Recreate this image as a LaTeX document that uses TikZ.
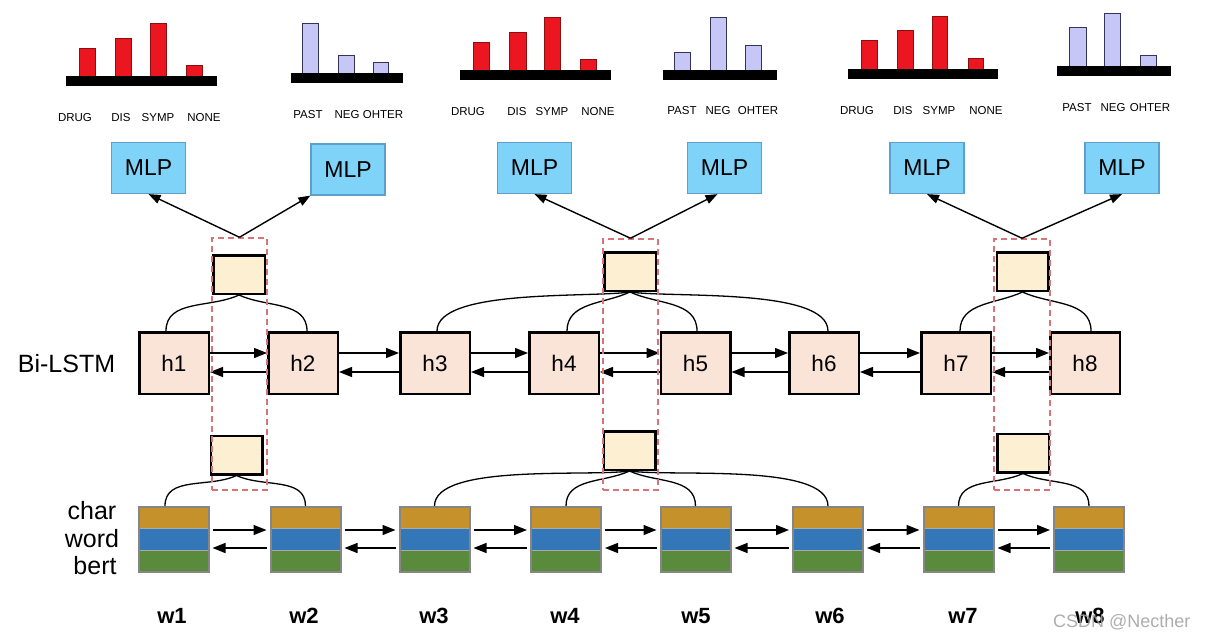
\documentclass[tikz,border=0pt]{standalone}
\usepackage{fontspec}
\setmainfont{Liberation Sans}
\usetikzlibrary{arrows.meta,calc}
\definecolor{mlpfill}{HTML}{80D3F8}
\definecolor{mlpline}{HTML}{5E9FCB}
\definecolor{attfill}{HTML}{FDEFD2}
\definecolor{hfill}{HTML}{FAE3D7}
\definecolor{egold}{HTML}{C4912A}
\definecolor{eblue}{HTML}{3377B8}
\definecolor{egreen}{HTML}{5A8A3C}
\definecolor{egrey}{HTML}{868686}
\definecolor{dashred}{HTML}{D9737A}
\definecolor{barred}{HTML}{EC1620}
\definecolor{barredline}{HTML}{8A1010}
\definecolor{barblue}{HTML}{C6C6F7}
\definecolor{barblueline}{HTML}{34345A}
\begin{document}
\begin{tikzpicture}[x=1pt,y=1pt,
  mlp/.style={draw=mlpline, fill=mlpfill, line width=1.2pt, minimum width=74pt, minimum height=51pt, inner sep=0pt, font=\fontsize{23}{26}\selectfont},
  att/.style={draw=black, fill=attfill, line width=2.5pt, minimum width=51.5pt, minimum height=38.5pt, inner sep=0pt},
  hbox/.style={draw=black, fill=hfill, line width=2.5pt, minimum width=69.5pt, minimum height=61.5pt, inner sep=0pt, font=\fontsize{22.5}{26}\selectfont},
  ebox/.style={draw=egrey, line width=2pt, minimum width=70pt, minimum height=65pt, inner sep=0pt,
    path picture={
      \fill[egreen] (path picture bounding box.south west) rectangle (path picture bounding box.north east);
      \fill[eblue] ($(path picture bounding box.west)+(0,10.8)$) rectangle ($(path picture bounding box.east)+(0,-10.8)$);
      \fill[egold] ($(path picture bounding box.west)+(0,10.8)$) rectangle (path picture bounding box.north east);
      \draw[egrey!70, line width=1pt] ($(path picture bounding box.west)+(0,10.8)$) -- ($(path picture bounding box.east)+(0,10.8)$);
      \draw[egrey!70, line width=1pt] ($(path picture bounding box.west)+(0,-10.8)$) -- ($(path picture bounding box.east)+(0,-10.8)$);
    }},
  dbox/.style={draw=dashred, dash pattern=on 6pt off 4pt, line width=1.5pt, inner sep=0pt},
  harr/.style={line width=1.4pt, -{Triangle[length=13pt,width=10pt]}},
  earr/.style={line width=1.4pt, -{Triangle[length=13pt,width=10pt]}, shorten <=3pt, shorten >=3pt},
  marr/.style={line width=1.4pt, -{Triangle[length=12pt,width=9pt]}},
  arcline/.style={line width=1.3pt},
  nearl/.style={out=90, in=205},
  nearr/.style={out=90, in=-25},
  farl/.style={out=90, in=188, looseness=0.55},
  farr/.style={out=90, in=-8, looseness=0.55},
  lab/.style={anchor=base, font=\fontsize{11.5}{13}\selectfont, inner sep=0pt},
  bigtxt/.style={font=\fontsize{25}{27}\selectfont, inner sep=0pt},
  wlab/.style={anchor=base, font=\bfseries\fontsize{22}{26}\selectfont, inner sep=0pt},
  redbar/.style={fill=barred, draw=barredline, line width=0.6pt},
  bluebar/.style={fill=barblue, draw=barblueline, line width=0.9pt}
]
\useasboundingbox (0,0) rectangle (1208,-638);

% ---------- bar charts ----------
% chart 1
\foreach \a/\b/\t in {79/95/48,115/131/38,150/166/23,186/202/65}
  \draw[redbar] (\a,-\t) rectangle (\b,-76);
\fill[black] (66,-76) rectangle (217,-86);
\foreach \x/\s [count=\i] in {75/DRUG,121/DIS,158/SYMP,204/NONE}
  \node[lab] (ca\i) at (\x,-121) {\s};
% chart 2
\foreach \a/\b/\t in {302/318/23,338/354/55,373/388/62}
  \draw[bluebar] (\a,-\t) rectangle (\b,-73);
\fill[black] (291,-73) rectangle (403,-83);
\foreach \x/\s [count=\i] in {308/PAST,347/NEG,383/OHTER}
  \node[lab] (cb\i) at (\x,-118) {\s};
% chart 3
\foreach \a/\b/\t in {473/489/42,509/526/32,544/560/17,580/596/59}
  \draw[redbar] (\a,-\t) rectangle (\b,-70);
\fill[black] (460,-70) rectangle (611,-80);
\foreach \x/\s [count=\i] in {468/DRUG,517/DIS,552/SYMP,598/NONE}
  \node[lab] (cc\i) at (\x,-115) {\s};
% chart 4
\foreach \a/\b/\t in {674/690/52,710/726/17,745/761/45}
  \draw[bluebar] (\a,-\t) rectangle (\b,-70);
\fill[black] (663,-70) rectangle (777,-80);
\foreach \x/\s [count=\i] in {682/PAST,718/NEG,758/OHTER}
  \node[lab] (cd\i) at (\x,-114) {\s};
% chart 5
\foreach \a/\b/\t in {861/877/40,897/913/30,932/947/16,968/983/58}
  \draw[redbar] (\a,-\t) rectangle (\b,-69);
\fill[black] (848,-69) rectangle (998,-79);
\foreach \x/\s [count=\i] in {857/DRUG,903/DIS,939/SYMP,986/NONE}
  \node[lab] (ce\i) at (\x,-114) {\s};
% chart 6
\foreach \a/\b/\t in {1069/1086/27,1104/1120/13,1140/1156/55}
  \draw[bluebar] (\a,-\t) rectangle (\b,-66);
\fill[black] (1057,-66) rectangle (1171,-76);
\foreach \x/\s [count=\i] in {1077/PAST,1113/NEG,1150/OHTER}
  \node[lab] (cf\i) at (\x,-111) {\s};

% ---------- MLP ----------
\node[mlp] (m1) at (148.5,-168) {MLP};
\node[mlp] (m2) at (348,-169.5) {MLP};
\node[mlp] (m3) at (534.5,-168) {MLP};
\node[mlp] (m4) at (724.5,-168) {MLP};
\node[mlp] (m5) at (927,-168) {MLP};
\node[mlp] (m6) at (1122,-168) {MLP};

% ---------- Bi-LSTM boxes ----------
\foreach \x [count=\i] in {174,303,435,564,695.5,824,956,1085}
  \node[hbox] (h\i) at (\x,-363) {h\i};

% ---------- embedding boxes ----------
\foreach \x [count=\i] in {173.5,305.5,434.5,566,695.5,828,958.5,1089}
  \node[ebox] (e\i) at (\x,-539.5) {};

% ---------- attention boxes ----------
\node[att] (a1) at (239,-274.5) {};
\node[att] (a2) at (630,-271.5) {};
\node[att] (a3) at (1022.5,-271.5) {};
\node[att] (b1) at (236.5,-455) {};
\node[att] (b2) at (629.5,-450.5) {};
\node[att] (b3) at (1023,-453) {};

% ---------- arcs ----------
\draw[arcline] ([xshift=-8pt]h1.north) to[nearl] (a1.south);
\draw[arcline] ([xshift=4pt]h2.north) to[nearr] (a1.south);
\draw[arcline] ([xshift=2pt]h3.north) to[farl] (a2.south);
\draw[arcline] ([xshift=3pt]h4.north) to[nearl] (a2.south);
\draw[arcline] ([xshift=1.5pt]h5.north) to[nearr] (a2.south);
\draw[arcline] ([xshift=4pt]h6.north) to[farr] (a2.south);
\draw[arcline] ([xshift=4pt]h7.north) to[nearl] (a3.south);
\draw[arcline] ([xshift=6pt]h8.north) to[nearr] (a3.south);

\draw[arcline] ([xshift=-8.5pt]e1.north) to[nearl] (b1.south);
\draw[arcline] (e2.north) to[nearr] (b1.south);
\draw[arcline] (e3.north) to[farl] (b2.south);
\draw[arcline] (e4.north) to[nearl] (b2.south);
\draw[arcline] (e5.north) to[nearr] (b2.south);
\draw[arcline] (e6.north) to[farr] (b2.south);
\draw[arcline] (e7.north) to[nearl] (b3.south);
\draw[arcline] (e8.north) to[nearr] (b3.south);

% ---------- horizontal arrows ----------
\foreach \i [evaluate=\i as \j using int(\i+1)] in {1,...,7} {
  \draw[harr] ([yshift=10pt]h\i.east) -- ([yshift=10pt]h\j.west);
  \draw[harr] ([yshift=-9pt]h\j.west) -- ([yshift=-9pt]h\i.east);
  \draw[earr] ([yshift=9.5pt]e\i.east) -- ([yshift=9.5pt]e\j.west);
  \draw[earr] ([yshift=-8.5pt]e\j.west) -- ([yshift=-8.5pt]e\i.east);
}

% ---------- dashed selection boxes ----------
\node[dbox, minimum width=55pt, minimum height=252pt] (d1) at (239.5,-364) {};
\node[dbox, minimum width=55pt, minimum height=251pt] (d2) at (630.5,-364.5) {};
\node[dbox, minimum width=56pt, minimum height=251pt] (d3) at (1022,-364.5) {};

% ---------- arrows to MLP ----------
\draw[marr] (d1.north) -- (m1.south);
\draw[marr] (d1.north) -- (m2.south west);
\draw[marr] (d2.north) -- (m3.south);
\draw[marr] (d2.north) -- ([xshift=-7pt]m4.south);
\draw[marr] (d3.north) -- (m5.south);
\draw[marr] (d3.north) -- (m6.south);

% ---------- side labels ----------
\node[bigtxt, anchor=base] (bilstm) at (66.5,-372) {Bi-LSTM};
\node[bigtxt, anchor=base] (tchar) at (92,-519) {char};
\node[bigtxt, anchor=base] (tword) at (92,-547) {word};
\node[bigtxt, anchor=base] (tbert) at (95,-574) {bert};

% ---------- word labels ----------
\foreach \x [count=\i] in {172,304,434,565,696,830,963,1090}
  \node[wlab] (w\i) at (\x,-623) {w\i};

% ---------- watermark ----------
\node[anchor=base west, inner sep=0pt, text=gray!75, opacity=0.85, font=\fontsize{18}{20}\selectfont] (wm) at (1053,-627) {CSDN @Necther};
\end{tikzpicture}
\end{document}
